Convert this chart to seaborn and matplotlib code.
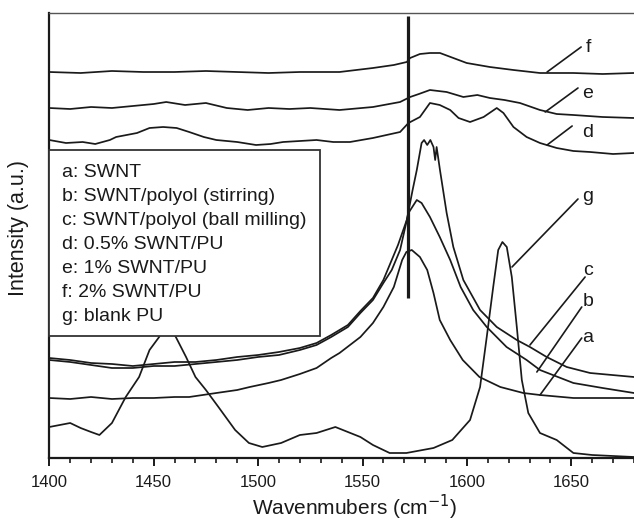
import matplotlib
matplotlib.use("Agg")
import matplotlib.pyplot as plt
import numpy as np
import pandas as pd
import seaborn as sns
from matplotlib.patches import Rectangle
from matplotlib.ticker import MultipleLocator

sns.set_theme(style="ticks")
plt.rcParams['font.family'] = ['Liberation Sans', 'DejaVu Sans']

# ---- data (wavenumber in cm^-1, intensity in arbitrary units) ----
wn_a = [1400, 1410, 1420, 1430, 1440, 1450, 1460, 1467, 1480, 1490, 1496, 1505, 1511, 1520, 1528,
        1535, 1539, 1544, 1549, 1555, 1560, 1565, 1569, 1571, 1573.6, 1577.5, 1581, 1584, 1587,
        1592, 1598, 1606, 1616, 1627, 1635, 1651, 1665, 1680]
I_a = [60, 59, 61, 59, 60, 60, 61, 61, 65, 68, 71, 75, 78, 84, 90,
       100, 105, 113, 121, 135, 151, 171, 198, 206, 208, 201, 188, 165, 138,
       118, 98, 81, 71, 65, 63, 60, 60, 60]

wn_b = [1400, 1410, 1420, 1430, 1440, 1450, 1460, 1470, 1480, 1490, 1500, 1510, 1520, 1528, 1535,
        1543, 1549, 1555, 1560, 1564, 1568, 1572, 1576, 1578.3, 1582.3, 1587, 1592, 1597, 1603,
        1609.5, 1619, 1628.6, 1635, 1651, 1665, 1680]
I_b = [98, 96, 93, 90, 90, 92, 92, 94, 96, 98, 101, 103, 108, 113, 121,
       131, 145, 158, 175, 188, 208, 245, 258, 255, 241, 221, 198, 171, 148,
       131, 111, 98, 88, 75, 70, 65]

wn_c = [1400, 1410, 1420, 1430, 1440, 1450, 1460, 1470, 1480, 1490, 1500, 1510, 1520, 1528, 1535,
        1543, 1549, 1555, 1560, 1563, 1567, 1571.2, 1574, 1576, 1578.3, 1579.5, 1581, 1582.5, 1584,
        1584.8, 1585.5, 1587.1, 1590.3, 1593.5, 1598.3, 1606.3, 1614.3, 1623.9, 1630.2, 1638.2,
        1647.8, 1659, 1680]
I_c = [100, 98, 95, 94, 92, 94, 96, 96, 98, 101, 103, 106, 110, 115, 123,
       133, 147, 160, 178, 193, 213, 238, 268, 288, 315, 318, 313, 318, 311,
       298, 311, 288, 245, 211, 178, 148, 131, 118, 111, 101,
       91, 85, 81]

wn_d = [1400, 1408, 1416, 1422, 1429, 1432, 1437, 1442, 1448, 1454.5, 1461, 1467, 1474, 1480, 1490,
        1499, 1506, 1512, 1520, 1528, 1536, 1544, 1555, 1568, 1572, 1577.5, 1582.3, 1587, 1592,
        1596, 1601.5, 1608, 1614.3, 1617.5, 1622.3, 1628.6, 1635, 1643, 1651, 1659, 1670, 1680]
I_d = [318, 315, 316, 314, 318, 321, 323, 325, 330, 331, 330, 326, 321, 318, 316,
       313, 314, 316, 317, 318, 316, 316, 320, 326, 335, 341, 355, 353, 348,
       340, 336, 341, 350, 345, 331, 321, 315, 310, 307, 306, 304, 305]

wn_e = [1400, 1410, 1420, 1430, 1440, 1450, 1456, 1465, 1475, 1485, 1495, 1505, 1515, 1525, 1539,
        1555, 1568, 1572.8, 1577, 1582.3, 1590.3, 1598.3, 1605, 1611, 1618, 1625.4, 1635, 1643,
        1651, 1665, 1680]
I_e = [350, 349, 351, 350, 352, 354, 356, 353, 355, 350, 348, 350, 349, 350, 348,
       351, 356, 361, 364, 368, 366, 361, 363, 360, 358, 355, 348, 344,
       343, 341, 340]

wn_f = [1400, 1415, 1430, 1445, 1460, 1475, 1490, 1505, 1520, 1539, 1555, 1565, 1571.2, 1572.8,
        1577.5, 1582.3, 1587.1, 1593.5, 1599.9, 1611, 1622.3, 1635, 1651, 1665, 1680]
I_f = [386, 385, 387, 386, 386, 387, 386, 385, 386, 386, 390, 393, 396, 400,
       404, 405, 405, 400, 395, 391, 388, 385, 385, 384, 385]

wn_g = [1400, 1405, 1410, 1415, 1420, 1424, 1430, 1436.6, 1443, 1448, 1452.6, 1456, 1460.6, 1465.5,
        1470, 1475, 1481, 1489, 1495.6, 1502, 1511, 1520, 1528, 1537, 1543, 1549, 1555, 1563, 1571,
        1584, 1593, 1601.5, 1606.3, 1609.5, 1612.6, 1615, 1617, 1619.1, 1621.5, 1623.9, 1626.3,
        1629.4, 1635, 1643, 1651, 1660, 1670, 1680]
I_g = [31, 33, 35, 30, 26, 23, 35, 61, 81, 108, 121, 135, 121, 101,
       81, 68, 51, 28, 15, 11, 15, 23, 25, 31, 26, 21, 13, 5, 5,
       10, 18, 38, 71, 121, 171, 208, 216, 211, 181, 131, 78,
       45, 25, 18, 5, 3, 2, 1]

sample_keys = ['a', 'b', 'c', 'd', 'e', 'f', 'g']
legend_entries = ["a: SWNT", "b: SWNT/polyol (stirring)", "c: SWNT/polyol (ball milling)",
                  "d: 0.5% SWNT/PU", "e: 1% SWNT/PU", "f: 2% SWNT/PU", "g: blank PU"]

# curve labels with leader lines
tag_names = ['f', 'e', 'd', 'g', 'c', 'b', 'a']
lead_x0 = [1638.4, 1637.5, 1638.4, 1621.6, 1630.2, 1633.5, 1635.0]
lead_y0 = [386, 346, 313, 191, 113, 86, 63]
lead_x1 = [1654.7, 1653.2, 1650.4, 1653.2, 1656.6, 1655.0, 1655.0]
lead_y1 = [411, 370, 332, 259, 181, 151, 120]
tag_x = 1658.0
tag_y = [406, 360, 321, 257, 183, 152, 116]

marker_wn = 1572
marker_range = (160, 442)

series = {'a': (wn_a, I_a), 'b': (wn_b, I_b), 'c': (wn_c, I_c), 'd': (wn_d, I_d),
          'e': (wn_e, I_e), 'f': (wn_f, I_f), 'g': (wn_g, I_g)}
df = pd.concat([pd.DataFrame({'wn': series[k][0], 'I': series[k][1], 'sample': k})
                for k in sample_keys], ignore_index=True)

# ---- figure ----
fig = plt.figure(figsize=(6.34, 5.25), dpi=100)
ax = fig.add_axes([49.3 / 634, 67 / 525, 609.7 / 634, 445 / 525])

ink = '#1a1a1a'
sns.lineplot(data=df, x='wn', y='I', hue='sample', palette=[ink] * 7, estimator=None,
             legend=False, ax=ax, linewidth=1.25, zorder=2)

ax.plot([marker_wn, marker_wn], list(marker_range), color=ink, lw=2.3, zorder=3,
        solid_capstyle='butt')

for name, x0, y0, x1, y1, ty in zip(tag_names, lead_x0, lead_y0, lead_x1, lead_y1, tag_y):
    ax.plot([x0, x1], [y0, y1], color=ink, lw=1.2, zorder=3)
    ax.text(tag_x, ty, name, fontsize=14, ha='center', va='baseline', color=ink, zorder=3)

# legend box
box_x1 = 1400 + (320 - 49.3) / 2.088
ax.add_patch(Rectangle((1400, 458 - 336), box_x1 - 1400, 336 - 150, facecolor='white',
                       edgecolor='#333333', lw=1.3, zorder=4, clip_on=False))
for i, entry in enumerate(legend_entries):
    base_py = 177 + 24 * i
    ax.text(1406.1, 458 - base_py, entry, fontsize=14, ha='left', va='baseline',
            color=ink, zorder=5)

ax.set_xlim(1400, 1692)
ax.set_ylim(0, 445)
ax.set_xticks([1400, 1450, 1500, 1550, 1600, 1650])
ax.xaxis.set_minor_locator(MultipleLocator(10))
ax.set_yticks([])
ax.tick_params(axis='x', which='major', direction='out', length=5.5, width=1.4,
               labelsize=12, pad=7, colors=ink)
ax.tick_params(axis='x', which='minor', direction='out', length=3.5, width=1.2, colors=ink)

for side in ['left', 'bottom']:
    ax.spines[side].set_linewidth(1.6)
    ax.spines[side].set_color(ink)
ax.spines['top'].set_linewidth(1.0)
ax.spines['top'].set_color('#555555')
ax.spines['right'].set_visible(False)

ax.set_xlabel('Wavenmubers (cm$^{-1}$)', fontsize=15, color=ink)
ax.set_ylabel('Intensity (a.u.)', fontsize=15.5, color=ink)
ax.xaxis.set_label_coords(0.5, -0.078)
ax.yaxis.set_label_coords(-0.034, 0.517)

fig.savefig('out.png', dpi=100)
